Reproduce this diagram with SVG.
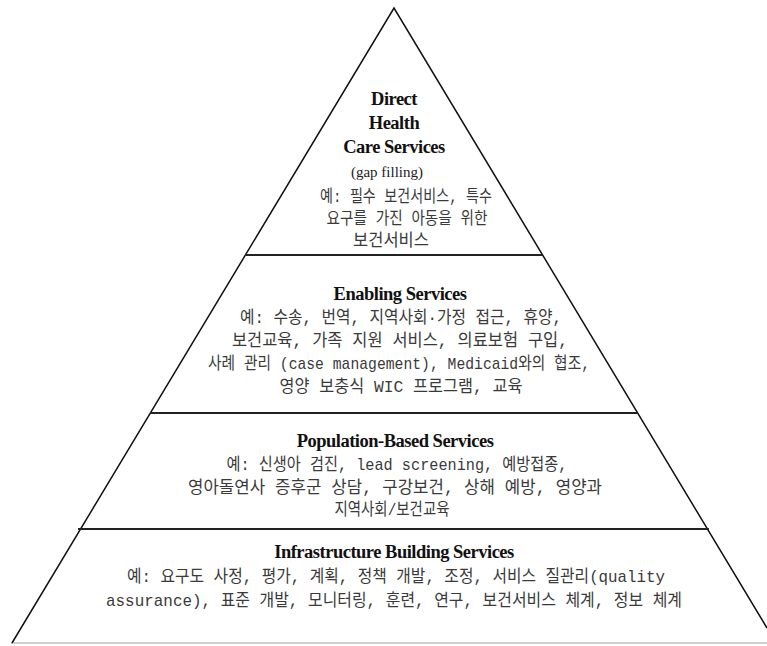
<svg xmlns="http://www.w3.org/2000/svg" width="767" height="646" viewBox="0 0 767 646">
  <style>
    .edge { fill: none; stroke: #111; stroke-width: 1.5; }
    .divider { stroke: #222; stroke-width: 2; }
    .base { stroke: #cfcfcf; stroke-width: 2; }
    .title { font-family: "Liberation Serif", "Times New Roman", serif; font-weight: bold; font-size: 18.5px; fill: #111; text-anchor: middle; letter-spacing: -0.5px; }
    .note { font-family: "Liberation Serif", "Times New Roman", serif; font-size: 15px; fill: #222; text-anchor: middle; }
    .ko { font-family: "Liberation Mono", "Noto Sans CJK KR", monospace; font-size: 17px; fill: #3a3a3a; text-anchor: middle; }
  </style>
  <rect width="767" height="646" fill="#ffffff"/>

  <!-- pyramid outline and tier dividers -->
  <g id="connectors">
    <line class="base" x1="11" y1="643" x2="767" y2="643"/>
    <polyline class="edge" points="12,643 394,8 767,628"/>
    <line class="divider" x1="245" y1="255" x2="542" y2="255"/>
    <line class="divider" x1="150" y1="413" x2="637" y2="413"/>
    <line class="divider" x1="78" y1="529" x2="709" y2="529"/>
  </g>

  <!-- tier 1: direct health care -->
  <g id="direct-health-care">
    <text class="title" x="394" y="105">Direct</text>
    <text class="title" x="394" y="129">Health</text>
    <text class="title" x="394" y="153">Care Services</text>
    <text class="note" x="387" y="177">(gap filling)</text>
    <text class="ko" x="406" y="202" textLength="172" lengthAdjust="spacingAndGlyphs">예: 필수 보건서비스, 특수</text>
    <text class="ko" x="407" y="224" textLength="161" lengthAdjust="spacingAndGlyphs">요구를 가진 아동을 위한</text>
    <text class="ko" x="391" y="246" textLength="76" lengthAdjust="spacingAndGlyphs">보건서비스</text>
  </g>

  <!-- tier 2: enabling -->
  <g id="enabling-services">
    <text class="title" x="400" y="300">Enabling Services</text>
    <text class="ko" x="401" y="323" textLength="322" lengthAdjust="spacingAndGlyphs">예: 수송, 번역, 지역사회·가정 접근, 휴양,</text>
    <text class="ko" x="400" y="346" textLength="336" lengthAdjust="spacingAndGlyphs">보건교육, 가족 지원 서비스, 의료보험 구입,</text>
    <text class="ko" x="399" y="369" textLength="382" lengthAdjust="spacingAndGlyphs">사례 관리 (case management), Medicaid와의 협조,</text>
    <text class="ko" x="401" y="392" textLength="243" lengthAdjust="spacingAndGlyphs">영양 보충식 WIC 프로그램, 교육</text>
  </g>

  <!-- tier 3: population-based -->
  <g id="population-based-services">
    <text class="title" x="395" y="447">Population-Based Services</text>
    <text class="ko" x="397" y="470" textLength="341" lengthAdjust="spacingAndGlyphs">예: 신생아 검진, lead screening, 예방접종,</text>
    <text class="ko" x="395" y="493" textLength="414" lengthAdjust="spacingAndGlyphs">영아돌연사 증후군 상담, 구강보건, 상해 예방, 영양과</text>
    <text class="ko" x="392" y="515" textLength="115" lengthAdjust="spacingAndGlyphs">지역사회/보건교육</text>
  </g>

  <!-- tier 4: infrastructure building -->
  <g id="infrastructure-building-services">
    <text class="title" x="394" y="558">Infrastructure Building Services</text>
    <text class="ko" x="396" y="582" textLength="538" lengthAdjust="spacingAndGlyphs">예: 요구도 사정, 평가, 계획, 정책 개발, 조정, 서비스 질관리(quality</text>
    <text class="ko" x="394" y="606" textLength="576" lengthAdjust="spacingAndGlyphs">assurance), 표준 개발, 모니터링, 훈련, 연구, 보건서비스 체계, 정보 체계</text>
  </g>
</svg>
